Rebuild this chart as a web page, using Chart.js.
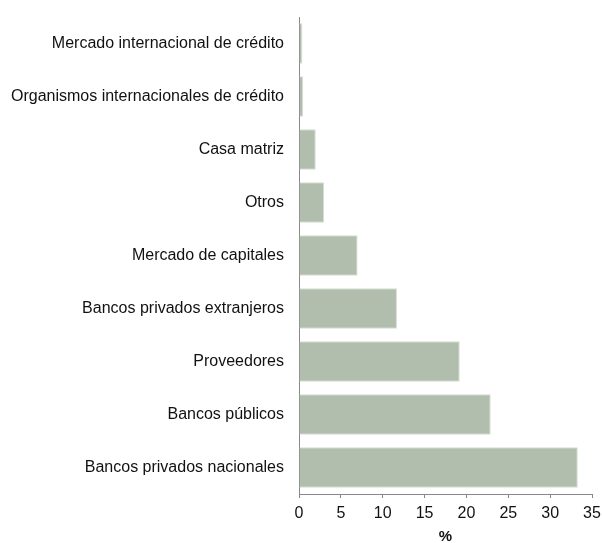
<!DOCTYPE html>
<html>
<head>
<meta charset="utf-8">
<script src="https://cdn.jsdelivr.net/npm/chart.js@4"></script>
<style>
html,body{margin:0;padding:0;background:#fff;}
#wrap{width:603px;height:543px;position:relative;}
</style>
</head>
<body>
<div id="wrap"><canvas id="c" width="603" height="543"></canvas></div>
<script>
const categories = [
  "Mercado internacional de crédito",
  "Organismos internacionales de crédito",
  "Casa matriz",
  "Otros",
  "Mercado de capitales",
  "Bancos privados extranjeros",
  "Proveedores",
  "Bancos públicos",
  "Bancos privados nacionales"
];
const values = [0.4, 0.5, 2.0, 3.0, 7.0, 11.7, 19.2, 22.9, 33.3];
const xTicks = [0, 5, 10, 15, 20, 25, 30, 35];
const xTitle = "%";

new Chart(document.getElementById('c'), {
  type: 'bar',
  data: {
    labels: categories,
    datasets: [{
      data: values,
      backgroundColor: '#b1bdad',
      borderColor: '#d6ddd4',
      borderWidth: 1,
      barPercentage: 0.76,
      categoryPercentage: 1.0
    }]
  },
  options: {
    indexAxis: 'y',
    responsive: false,
    animation: false,
    devicePixelRatio: 1,
    layout: { padding: { left: 0, right: 11, top: 17, bottom: 0 } },
    plugins: { legend: { display: false }, tooltip: { enabled: false } },
    scales: {
      x: {
        min: 0, max: 35,
        afterBuildTicks: s => { s.ticks = xTicks.map(v => ({ value: v })); },
        grid: { display: true, drawOnChartArea: false, drawTicks: true, tickLength: 4, color: '#888' },
        border: { display: true, color: '#888', width: 1 },
        ticks: { color: '#111', font: { family: 'Liberation Sans, Arial', size: 16 }, padding: 6, maxRotation: 0 },
        title: { display: true, text: xTitle, color: '#111', font: { family: 'Liberation Sans, Arial', size: 15, weight: 'bold' }, padding: { top: 0, bottom: -3 } },
        afterFit: s => { s.height = 49; s.paddingLeft = 0; s.paddingRight = 0; }
      },
      y: {
        grid: { display: true, drawOnChartArea: false, drawTicks: false, color: '#888' },
        border: { display: true, color: '#888', width: 1 },
        ticks: { color: '#111', font: { family: 'Liberation Sans, Arial', size: 16 }, padding: 15 },
        afterFit: s => { s.width = 299; s.paddingTop = 0; s.paddingBottom = 0; }
      }
    }
  }
});
</script>
</body>
</html>
